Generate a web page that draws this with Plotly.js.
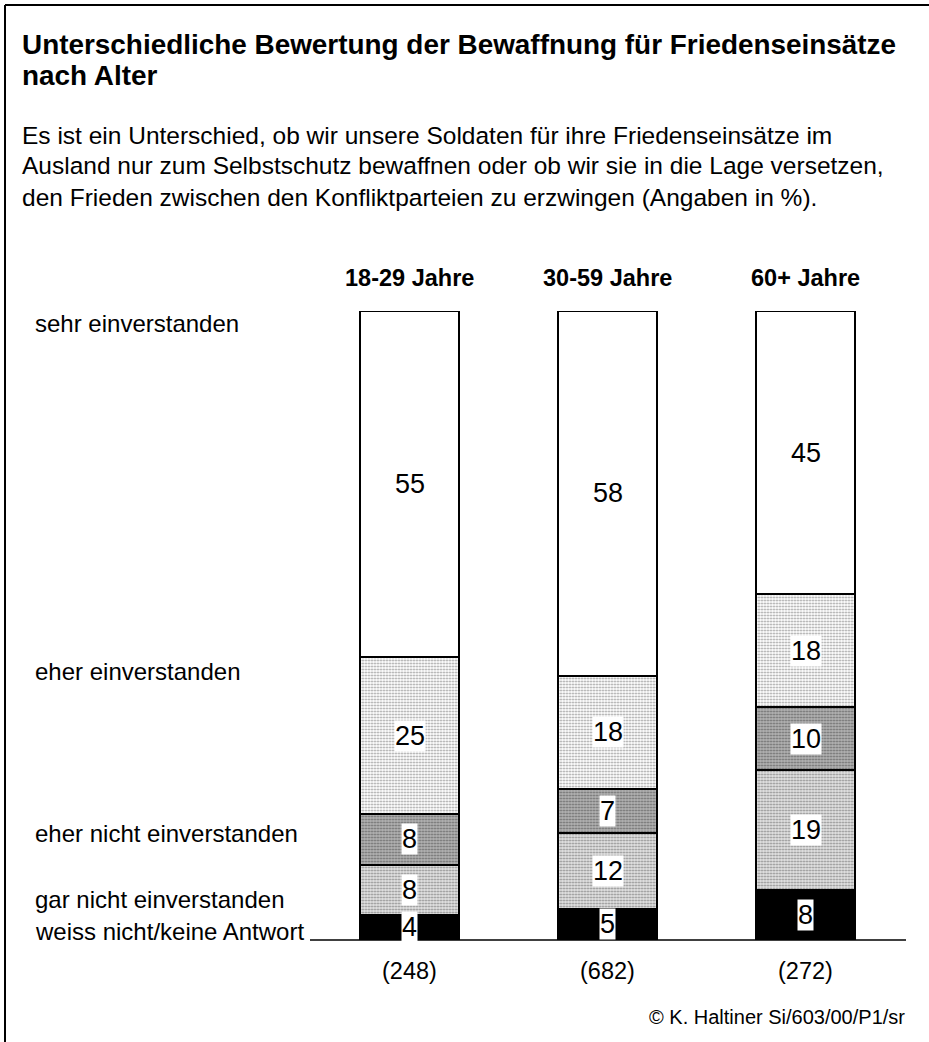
<!DOCTYPE html>
<html>
<head>
<meta charset="utf-8">
<script src="https://cdn.plot.ly/plotly-3.0.1.min.js"></script>
<style>html,body{margin:0;padding:0;background:#fff;}#chart{width:929px;height:1042px;}</style>
</head>
<body>
<div id="chart"></div>
<script>
// Data
var groups = ["18-29 Jahre", "30-59 Jahre", "60+ Jahre"];
var counts = ["(248)", "(682)", "(272)"];
var categories = ["weiss nicht/keine Antwort", "gar nicht einverstanden", "eher nicht einverstanden", "eher einverstanden", "sehr einverstanden"];
var weissNicht = [4, 5, 8];
var garNicht = [8, 12, 19];
var eherNicht = [8, 7, 10];
var eherEinverstanden = [25, 18, 18];
var sehrEinverstanden = [55, 58, 45];
var titleLines = ["Unterschiedliche Bewertung der Bewaffnung für Friedenseinsätze", "nach Alter"];
var subtitleLines = [
  "Es ist ein Unterschied, ob wir unsere Soldaten für ihre Friedenseinsätze im",
  "Ausland nur zum Selbstschutz bewaffnen oder ob wir sie in die Lage versetzen,",
  "den Frieden zwischen den Konfliktparteien zu erzwingen (Angaben in %)."
];
var sourceNote = "© K. Haltiner Si/603/00/P1/sr";

var series = [weissNicht, garNicht, eherNicht, eherEinverstanden, sehrEinverstanden];
var fills = [
  {color: "#000000"},
  {color: "#c4c4c4", pattern: {shape: ".", bgcolor: "#e4e4e4", fgcolor: "#8a8a8a", size: 3, solidity: 0.35}},
  {color: "#a4a4a4", pattern: {shape: ".", bgcolor: "#b4b4b4", fgcolor: "#6a6a6a", size: 3, solidity: 0.35}},
  {color: "#e2e2e2", pattern: {shape: ".", bgcolor: "#ffffff", fgcolor: "#9a9a9a", size: 3, solidity: 0.3}},
  {color: "#ffffff"}
];
var xs = [0, 1, 2];
var FONT = "Liberation Sans, Arial, sans-serif";

var W = 929, H = 1042;
function px(x) { return x / W; }
function py(y) { return (H - y) / H; }

var traces = series.map(function (vals, i) {
  var m = {color: fills[i].color, line: {color: "#000", width: 2}};
  if (fills[i].pattern) m.pattern = fills[i].pattern;
  return {
    type: "bar", x: xs, y: vals, name: categories[i], width: 0.5,
    marker: m, hoverinfo: "skip", showlegend: false
  };
});

var annotations = [];
for (var g = 0; g < xs.length; g++) {
  var cum = 0;
  for (var s = 0; s < series.length; s++) {
    var v = series[s][g];
    annotations.push({
      x: xs[g], y: cum + v / 2, xref: "x", yref: "y", text: String(v), showarrow: false,
      font: {family: FONT, size: 27, color: "#000"},
      bgcolor: s === series.length - 1 ? "rgba(0,0,0,0)" : "#ffffff", borderpad: 0
    });
    cum += v;
  }
  annotations.push({
    x: xs[g], y: py(278), xref: "x", yref: "paper", text: "<b>" + groups[g] + "</b>", showarrow: false,
    font: {family: FONT, size: 23.5, color: "#000"}, yanchor: "middle"
  });
  annotations.push({
    x: xs[g], y: py(971), xref: "x", yref: "paper", text: counts[g], showarrow: false,
    font: {family: FONT, size: 23.5, color: "#000"}, yanchor: "middle"
  });
}

var leftLabels = [
  {t: categories[4], y: 324},
  {t: categories[3], y: 671},
  {t: categories[2], y: 833},
  {t: categories[1], y: 899},
  {t: categories[0], y: 931}
];
leftLabels.forEach(function (l) {
  annotations.push({
    x: px(33), y: py(l.y), xref: "paper", yref: "paper", text: l.t, showarrow: false,
    xanchor: "left", yanchor: "middle",
    font: {family: FONT, size: 24, color: "#000"}
  });
});

var titleY = [45, 75];
titleLines.forEach(function (t, i) {
  annotations.push({
    x: px(20), y: py(titleY[i]), xref: "paper", yref: "paper", showarrow: false, xanchor: "left", yanchor: "middle",
    text: "<b>" + t + "</b>", font: {family: FONT, size: 27.9, color: "#000"}
  });
});
var subY = [135, 166, 197];
subtitleLines.forEach(function (t, i) {
  annotations.push({
    x: px(20), y: py(subY[i]), xref: "paper", yref: "paper", showarrow: false, xanchor: "left", yanchor: "middle",
    text: t, font: {family: FONT, size: 24.5, color: "#000"}
  });
});
annotations.push({
  x: px(907), y: py(1017), xref: "paper", yref: "paper", showarrow: false, xanchor: "right", yanchor: "middle",
  text: sourceNote, font: {family: FONT, size: 20, color: "#000"}
});

var layout = {
  width: W, height: H,
  margin: {l: 0, r: 0, t: 0, b: 0},
  paper_bgcolor: "#fff", plot_bgcolor: "rgba(0,0,0,0)",
  barmode: "stack",
  xaxis: {domain: [px(310.5), px(904.5)], range: [-0.5, 2.5], showticklabels: false, ticks: "",
          showgrid: false, zeroline: false, showline: false, fixedrange: true},
  yaxis: {domain: [py(940), py(311)], range: [0, 100], showticklabels: false, ticks: "",
          showgrid: false, zeroline: false, showline: false, fixedrange: true},
  shapes: [
    {type: "line", xref: "paper", yref: "paper", x0: px(310), x1: px(906), y0: py(940), y1: py(940),
     line: {color: "#000", width: 1.5}, layer: "below"},
    {type: "line", xref: "paper", yref: "paper", x0: px(5), x1: 1, y0: py(5), y1: py(5), line: {color: "#000", width: 2}},
    {type: "line", xref: "paper", yref: "paper", x0: px(5), x1: px(5), y0: py(5), y1: 0, line: {color: "#000", width: 2}}
  ],
  annotations: annotations,
  showlegend: false
};

Plotly.newPlot("chart", traces, layout, {displayModeBar: false, staticPlot: true});
</script>
</body>
</html>
